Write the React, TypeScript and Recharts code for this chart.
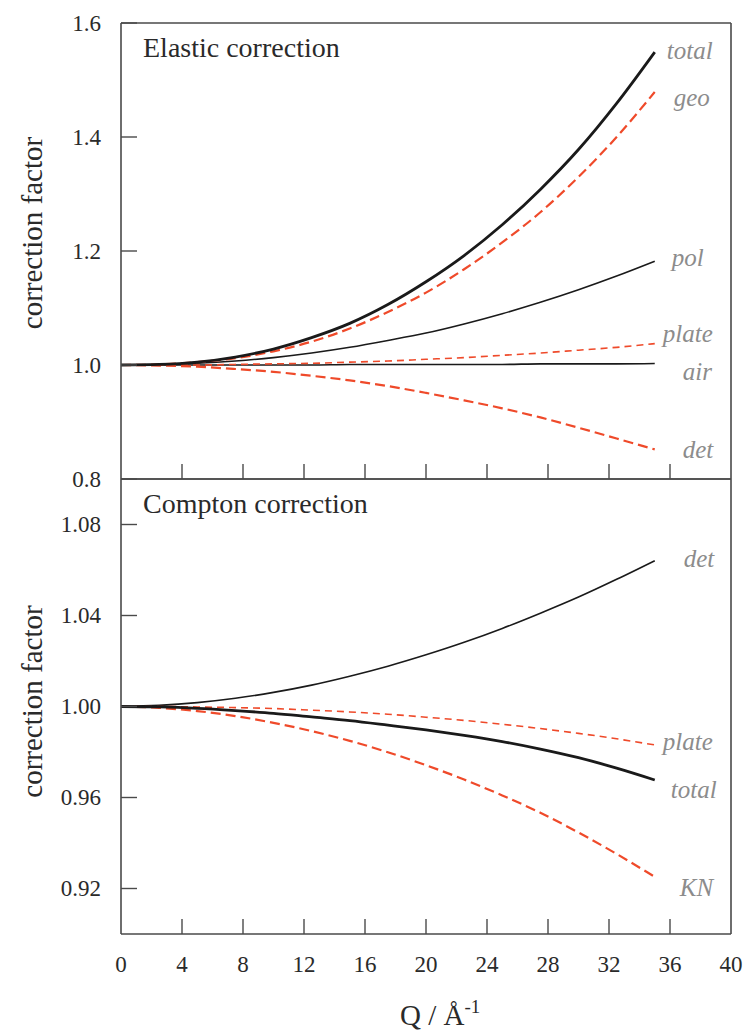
import React from 'react';
import { LineChart, Line, XAxis, YAxis, Label } from 'recharts';

// Q values (Å^-1) where the curves were read
const qValues = [0, 2.5, 5, 7.5, 10, 12.5, 15, 17.5, 20, 22.5, 25, 27.5, 30, 32.5, 35];

// Elastic correction factors
const elasticTotal = [1.0, 1.001, 1.005, 1.014, 1.028, 1.048, 1.073, 1.106, 1.146, 1.192, 1.246, 1.308, 1.378, 1.459, 1.549];
const elasticGeo = [1.0, 1.001, 1.005, 1.012, 1.024, 1.041, 1.064, 1.093, 1.127, 1.168, 1.215, 1.268, 1.33, 1.4, 1.479];
const elasticPol = [1.0, 1.001, 1.003, 1.007, 1.013, 1.021, 1.031, 1.043, 1.056, 1.072, 1.09, 1.11, 1.132, 1.156, 1.182];
const elasticPlate = [1.0, 1.0, 1.0, 1.001, 1.002, 1.003, 1.005, 1.007, 1.01, 1.013, 1.017, 1.021, 1.026, 1.031, 1.0375];
const elasticAir = [1.0, 1.0, 1.0, 1.0, 1.0, 1.0, 1.001, 1.001, 1.001, 1.001, 1.001, 1.002, 1.002, 1.002, 1.0025];
const elasticDet = [1.0, 0.999, 0.997, 0.993, 0.988, 0.981, 0.973, 0.963, 0.951, 0.938, 0.924, 0.908, 0.89, 0.871, 0.852];

// Compton correction factors
const comptonDet = [1.0, 1.0005, 1.0017, 1.0036, 1.0062, 1.0094, 1.0133, 1.0177, 1.0227, 1.0282, 1.0343, 1.041, 1.0481, 1.0559, 1.0641];
const comptonPlate = [1.0, 1.0, 0.9998, 0.9995, 0.9991, 0.9984, 0.9976, 0.9966, 0.9953, 0.9939, 0.9922, 0.9903, 0.9882, 0.9858, 0.9831];
const comptonTotal = [1.0, 0.9998, 0.9992, 0.9982, 0.997, 0.9954, 0.9938, 0.9918, 0.9897, 0.9873, 0.9846, 0.9813, 0.9775, 0.9729, 0.9677];
const comptonKN = [1.0, 0.9994, 0.998, 0.9958, 0.9928, 0.9892, 0.9849, 0.9799, 0.9742, 0.9679, 0.9609, 0.9533, 0.9446, 0.9352, 0.9251];

const xTicks = [0, 4, 8, 12, 16, 20, 24, 28, 32, 36, 40];
const elasticTicks = [0.8, 1.0, 1.2, 1.4, 1.6];
const comptonTicks = [0.92, 0.96, 1.0, 1.04, 1.08];

const elasticData = qValues.map((q, i) => ({
  q,
  total: elasticTotal[i],
  geo: elasticGeo[i],
  pol: elasticPol[i],
  plate: elasticPlate[i],
  air: elasticAir[i],
  det: elasticDet[i],
}));

const comptonData = qValues.map((q, i) => ({
  q,
  det: comptonDet[i],
  plate: comptonPlate[i],
  total: comptonTotal[i],
  kn: comptonKN[i],
}));

const SERIF = '"Liberation Serif", "DejaVu Serif", serif';
const RED = '#ef4a2a';
const BLACK = '#1a1a1a';
const AXIS = '#4a4a4a';
const TEXT = '#2a2a2a';
const GRAY = '#8c8c8c';

// inward tick + label on the left axis
const YTick = ({ x, y, payload, digits }: any) => (
  <g>
    <line x1={x} x2={x + 16} y1={y} y2={y} stroke={AXIS} strokeWidth={1.4} />
    <text x={x - 20} y={y + 7.5} textAnchor="end" fontFamily={SERIF} fontSize={23} fill={TEXT}>
      {payload.value.toFixed(digits)}
    </text>
  </g>
);

// inward tick (not at the frame corners) + optional label below
const XTick = ({ x, y, payload, showLabel }: any) => {
  const v = payload.value;
  const inner = v !== 0 && v !== 40;
  return (
    <g>
      {inner && <line x1={x} x2={x} y1={y} y2={y - 15} stroke={AXIS} strokeWidth={1.4} />}
      {showLabel && (
        <text x={x} y={y + 38} textAnchor="middle" fontFamily={SERIF} fontSize={23} fill={TEXT}>
          {v}
        </text>
      )}
    </g>
  );
};

const endLabel = (text: string, dx: number, dy: number) => (props: any) => {
  const { x, y, index } = props;
  if (index !== qValues.length - 1) return <g />;
  return (
    <text x={x + dx} y={y + dy} fontFamily={SERIF} fontStyle="italic" fontSize={25} fill={GRAY}>
      {text}
    </text>
  );
};

const titleLabel = (text: string) => (props: any) => {
  const vb = props.viewBox;
  return (
    <text x={vb.x + 22} y={vb.y + vb.height + 34} fontFamily={SERIF} fontSize={28} fill={TEXT}>
      {text}
    </text>
  );
};

const yTitle = (offset: number) => (props: any) => {
  const vb = props.viewBox;
  const cy = vb.y + vb.height / 2 + offset;
  return (
    <text
      x={42}
      y={cy}
      transform={`rotate(-90 42 ${cy})`}
      textAnchor="middle"
      fontFamily={SERIF}
      fontSize={29}
      fill={TEXT}
    >
      correction factor
    </text>
  );
};

const xTitle = (props: any) => {
  const vb = props.viewBox;
  return (
    <text x={vb.x + vb.width / 2 - 26} y={vb.y + 91} fontFamily={SERIF} fontSize={29} fill={TEXT}>
      Q / Å
      <tspan fontSize={19} dy={-12}>-1</tspan>
    </text>
  );
};

const axisLine = { stroke: AXIS, strokeWidth: 1.6 };

export default function App() {
  return (
    <div style={{ position: 'absolute', left: 0, top: 0, width: 744, height: 1033 }}>
      <div style={{ position: 'absolute', left: 0, top: 0 }}>
        <LineChart width={744} height={500} data={elasticData} margin={{ top: 0, right: 0, bottom: 0, left: 0 }}>
          <XAxis
            dataKey="q"
            type="number"
            domain={[0, 40]}
            ticks={xTicks}
            height={21}
            axisLine={axisLine}
            tickLine={false}
            tickSize={0}
            tickMargin={0}
            tick={(p: any) => <XTick {...p} showLabel={false} />}
          />
          <XAxis xAxisId="top" orientation="top" type="number" domain={[0, 40]} height={23} axisLine={axisLine} tick={false} tickLine={false}>
            <Label content={titleLabel('Elastic correction')} />
          </XAxis>
          <YAxis
            type="number"
            domain={[0.8, 1.6]}
            ticks={elasticTicks}
            width={121}
            axisLine={axisLine}
            tickLine={false}
            tickSize={0}
            tickMargin={0}
            tick={(p: any) => <YTick {...p} digits={1} />}
          >
            <Label content={yTitle(-18)} />
          </YAxis>
          <YAxis yAxisId="right" orientation="right" type="number" domain={[0.8, 1.6]} width={13} axisLine={axisLine} tick={false} tickLine={false} />
          <Line dataKey="air" type="monotone" stroke={BLACK} strokeWidth={1.6} dot={false} isAnimationActive={false} label={endLabel('air', 28, 16)} />
          <Line dataKey="plate" type="monotone" stroke={RED} strokeWidth={1.6} strokeDasharray="7 5" dot={false} isAnimationActive={false} label={endLabel('plate', 8, -2)} />
          <Line dataKey="det" type="monotone" stroke={RED} strokeWidth={2.2} strokeDasharray="10 5" dot={false} isAnimationActive={false} label={endLabel('det', 28, 9)} />
          <Line dataKey="pol" type="monotone" stroke={BLACK} strokeWidth={1.6} dot={false} isAnimationActive={false} label={endLabel('pol', 17, 5)} />
          <Line dataKey="geo" type="monotone" stroke={RED} strokeWidth={2.2} strokeDasharray="10 5" dot={false} isAnimationActive={false} label={endLabel('geo', 19, 14)} />
          <Line dataKey="total" type="monotone" stroke={BLACK} strokeWidth={2.8} dot={false} isAnimationActive={false} label={endLabel('total', 12, 7)} />
        </LineChart>
      </div>
      <div style={{ position: 'absolute', left: 0, top: 440 }}>
        <LineChart width={744} height={593} data={comptonData} margin={{ top: 0, right: 0, bottom: 0, left: 0 }}>
          <XAxis
            dataKey="q"
            type="number"
            domain={[0, 40]}
            ticks={xTicks}
            height={99}
            axisLine={axisLine}
            tickLine={false}
            tickSize={0}
            tickMargin={0}
            tick={(p: any) => <XTick {...p} showLabel={true} />}
          >
            <Label content={xTitle} />
          </XAxis>
          <XAxis xAxisId="top" orientation="top" type="number" domain={[0, 40]} height={39} axisLine={axisLine} tick={false} tickLine={false}>
            <Label content={titleLabel('Compton correction')} />
          </XAxis>
          <YAxis
            type="number"
            domain={[0.9, 1.1]}
            ticks={comptonTicks}
            width={121}
            axisLine={axisLine}
            tickLine={false}
            tickSize={0}
            tickMargin={0}
            tick={(p: any) => <YTick {...p} digits={2} />}
          >
            <Label content={yTitle(-5)} />
          </YAxis>
          <YAxis yAxisId="right" orientation="right" type="number" domain={[0.9, 1.1]} width={13} axisLine={axisLine} tick={false} tickLine={false} />
          <Line dataKey="det" type="monotone" stroke={BLACK} strokeWidth={1.6} dot={false} isAnimationActive={false} label={endLabel('det', 29, 6)} />
          <Line dataKey="plate" type="monotone" stroke={RED} strokeWidth={1.6} strokeDasharray="7 5" dot={false} isAnimationActive={false} label={endLabel('plate', 8, 5)} />
          <Line dataKey="kn" type="monotone" stroke={RED} strokeWidth={2.2} strokeDasharray="10 5" dot={false} isAnimationActive={false} label={endLabel('KN', 25, 19)} />
          <Line dataKey="total" type="monotone" stroke={BLACK} strokeWidth={2.8} dot={false} isAnimationActive={false} label={endLabel('total', 16, 18)} />
        </LineChart>
      </div>
    </div>
  );
}
